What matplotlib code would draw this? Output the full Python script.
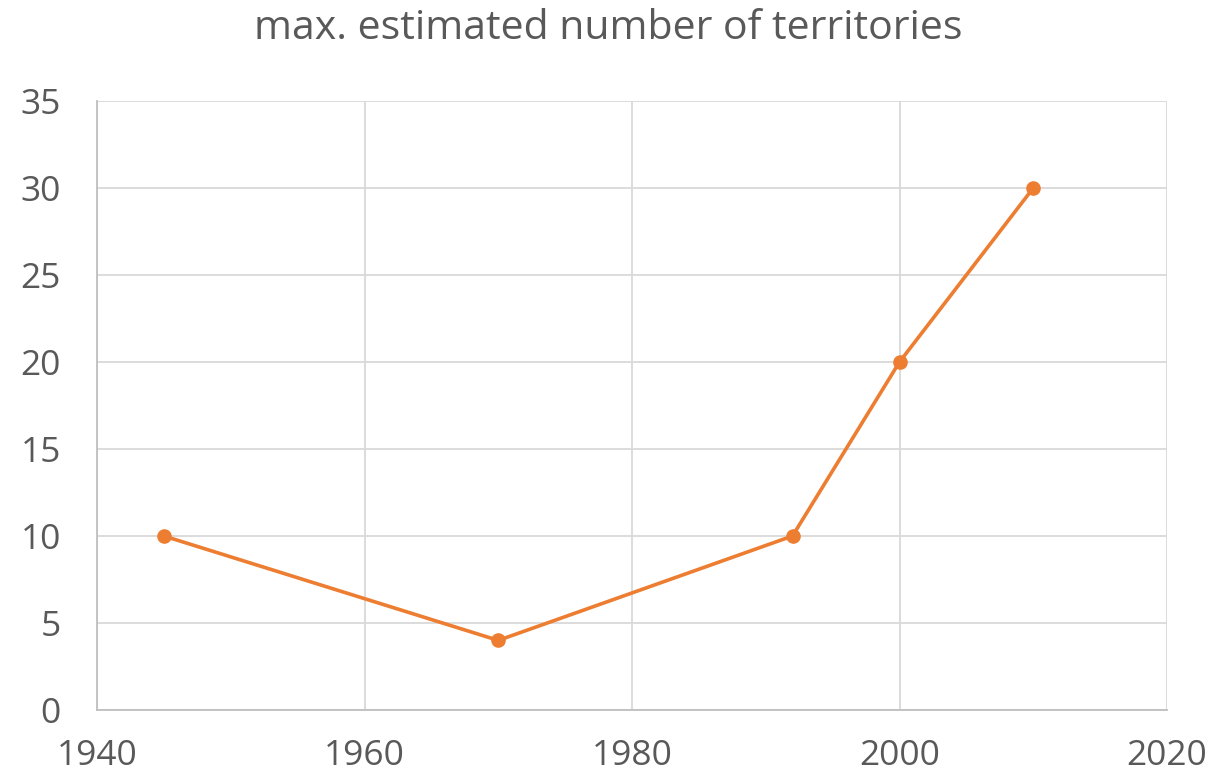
import matplotlib
matplotlib.use("Agg")
import matplotlib.pyplot as plt

years = [1945, 1970, 1992, 2000, 2010]
territories = [10, 4, 10, 20, 30]
x_ticks = [1940, 1960, 1980, 2000, 2020]
y_ticks = [0, 5, 10, 15, 20, 25, 30, 35]
title = "max. estimated number of territories"

plt.rcParams['font.family'] = ['Open Sans', 'DejaVu Sans']
text_color = "#595959"

fig = plt.figure(figsize=(12.16, 7.74), dpi=100)
ax = fig.add_axes([97/1216, 1 - 710/774, (1167-97)/1216, (710-101)/774])

ax.plot(years, territories, color="#ed7d31", lw=2.6, marker="o", markersize=9.5,
        zorder=3, clip_on=False)

ax.set_xlim(1940, 2020)
ax.set_ylim(0, 35)
ax.set_xticks(x_ticks)
ax.set_yticks(y_ticks)
ax.grid(True, color="#d9d9d9", lw=1.3)
ax.set_axisbelow(True)
for s in ["top", "right"]:
    ax.spines[s].set_visible(False)
for s in ["left", "bottom"]:
    ax.spines[s].set_color("#bfbfbf")
    ax.spines[s].set_linewidth(1.3)
ax.tick_params(length=0, labelsize=25.5, labelcolor=text_color)
ax.tick_params(axis="y", pad=26)
ax.tick_params(axis="x", pad=21)

fig.text(0.5, 1 - 29/774, title, ha="center", va="center", fontsize=29.5, color=text_color)

fig.savefig("out.png", dpi=100)
